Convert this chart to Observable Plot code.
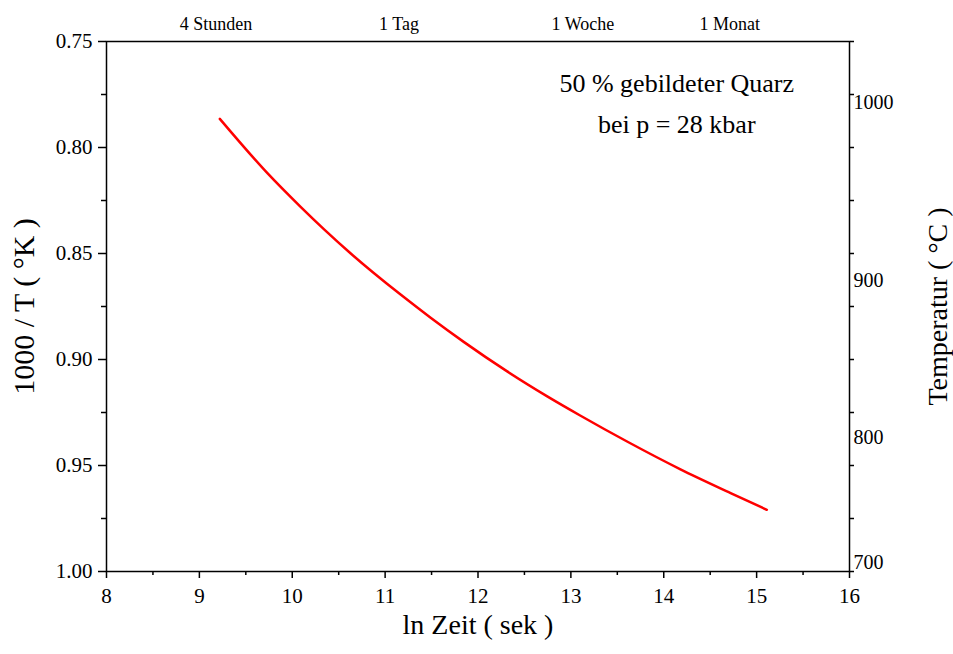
<!DOCTYPE html>
<html>
<head>
<meta charset="utf-8">
<script src="https://cdn.jsdelivr.net/npm/d3@7"></script>
<script src="https://cdn.jsdelivr.net/npm/@observablehq/plot@0.6"></script>
<style>
  html, body { margin: 0; padding: 0; background: #fff; }
  #chart svg { display: block; }
</style>
</head>
<body>
<div id="chart"></div>
<script>
// Curve: ln time (s) vs 1000/T
const lnZeit = [9.22, 9.73, 10.09, 10.34, 10.63, 11.17, 11.49, 11.85, 12.31, 12.75, 13.10, 13.61, 14.18, 14.72, 15.11];
const invT   = [0.7865, 0.8120, 0.8280, 0.8385, 0.8500, 0.8695, 0.8803, 0.8918, 0.9055, 0.9175, 0.9264, 0.9388, 0.9518, 0.9630, 0.9709];

// Axis ticks
const xMajor = [8, 9, 10, 11, 12, 13, 14, 15, 16];
const xMinor = [8.5, 9.5, 10.5, 11.5, 12.5, 13.5, 14.5, 15.5];
const yMajor = [0.75, 0.80, 0.85, 0.90, 0.95, 1.00];
const yMinor = [0.775, 0.825, 0.875, 0.925, 0.975];
const yRightTicks = [0.75, 0.775, 0.80, 0.825, 0.85, 0.875, 0.90, 0.925, 0.95, 0.975, 1.00];

// Right-hand temperature labels (°C) and where they sit on the 1000/T scale
const tempLabels = ["1000", "900", "800", "700"];
const tempLabelPos = [0.7788, 0.8627, 0.9368, 0.9958];

// Top time labels and their positions on the ln-time scale
const timeLabels = ["4 Stunden", "1 Tag", "1 Woche", "1 Monat"];
const timeLabelPos = [9.18, 11.15, 13.13, 14.71];

// Annotation
const noteLines = ["50 % gebildeter Quarz", "bei p = 28 kbar"];
const noteX = [14.14, 14.14];
const noteY = [0.7698, 0.7892];

const curve = lnZeit.map((x, i) => ({x, y: invT[i]}));
const timeData = timeLabels.map((t, i) => ({t, x: timeLabelPos[i]}));
const noteData = noteLines.map((t, i) => ({t, x: noteX[i], y: noteY[i]}));
const tempMap = new Map(tempLabelPos.map((p, i) => [p, tempLabels[i]]));

const font = "'Liberation Serif', 'Times New Roman', serif";

const chart = Plot.plot({
  width: 953,
  height: 654,
  marginLeft: 106,
  marginRight: 104,
  marginTop: 41,
  marginBottom: 83,
  style: {fontFamily: font, color: "black", background: "white", overflow: "visible"},
  x: {domain: [8, 16], label: null},
  y: {domain: [0.75, 1.00], reverse: true, label: null},
  marks: [
    Plot.axisX({anchor: "bottom", ticks: xMajor, tickSize: 7, tickPadding: 10, tickFormat: d => String(d), fontSize: 21, strokeWidth: 1.5, label: null}),
    Plot.axisX({anchor: "bottom", ticks: xMinor, tickSize: 4, tickFormat: () => "", strokeWidth: 1.5, label: null}),
    Plot.axisY({anchor: "left", ticks: yMajor, tickSize: 8, tickPadding: 6, tickFormat: d3.format(".2f"), fontSize: 21, strokeWidth: 1.5, label: null}),
    Plot.axisY({anchor: "left", ticks: yMinor, tickSize: 5, tickFormat: () => "", strokeWidth: 1.5, label: null}),
    Plot.axisY({anchor: "right", ticks: yRightTicks, tickSize: 4, tickFormat: () => "", strokeWidth: 1.5, label: null}),
    Plot.axisY({anchor: "right", ticks: tempLabelPos, tickSize: 0, tickPadding: 4, tickFormat: d => tempMap.get(d), fontSize: 20, label: null}),
    Plot.frame({stroke: "black", strokeWidth: 1.5}),
    Plot.line(curve, {x: "x", y: "y", stroke: "#ff0000", strokeWidth: 2.5, curve: "monotone-x"}),
    Plot.text(timeData, {x: "x", text: "t", frameAnchor: "top", dy: -17, fontSize: 18, lineAnchor: "middle"}),
    Plot.text(noteData, {x: "x", y: "y", text: "t", fontSize: 26, lineAnchor: "middle"}),
    Plot.text(["ln Zeit ( sek )"], {frameAnchor: "bottom", dy: 54, fontSize: 28, lineAnchor: "middle", textAnchor: "middle"}),
    Plot.text(["1000 / T ( \u00B0K )"], {frameAnchor: "left", dx: -82, rotate: -90, fontSize: 30, lineAnchor: "middle", textAnchor: "middle"}),
    Plot.text(["Temperatur ( \u00B0C )"], {frameAnchor: "right", dx: 89, rotate: -90, fontSize: 28, lineAnchor: "middle", textAnchor: "middle"})
  ]
});

document.getElementById("chart").appendChild(chart);
</script>
</body>
</html>
